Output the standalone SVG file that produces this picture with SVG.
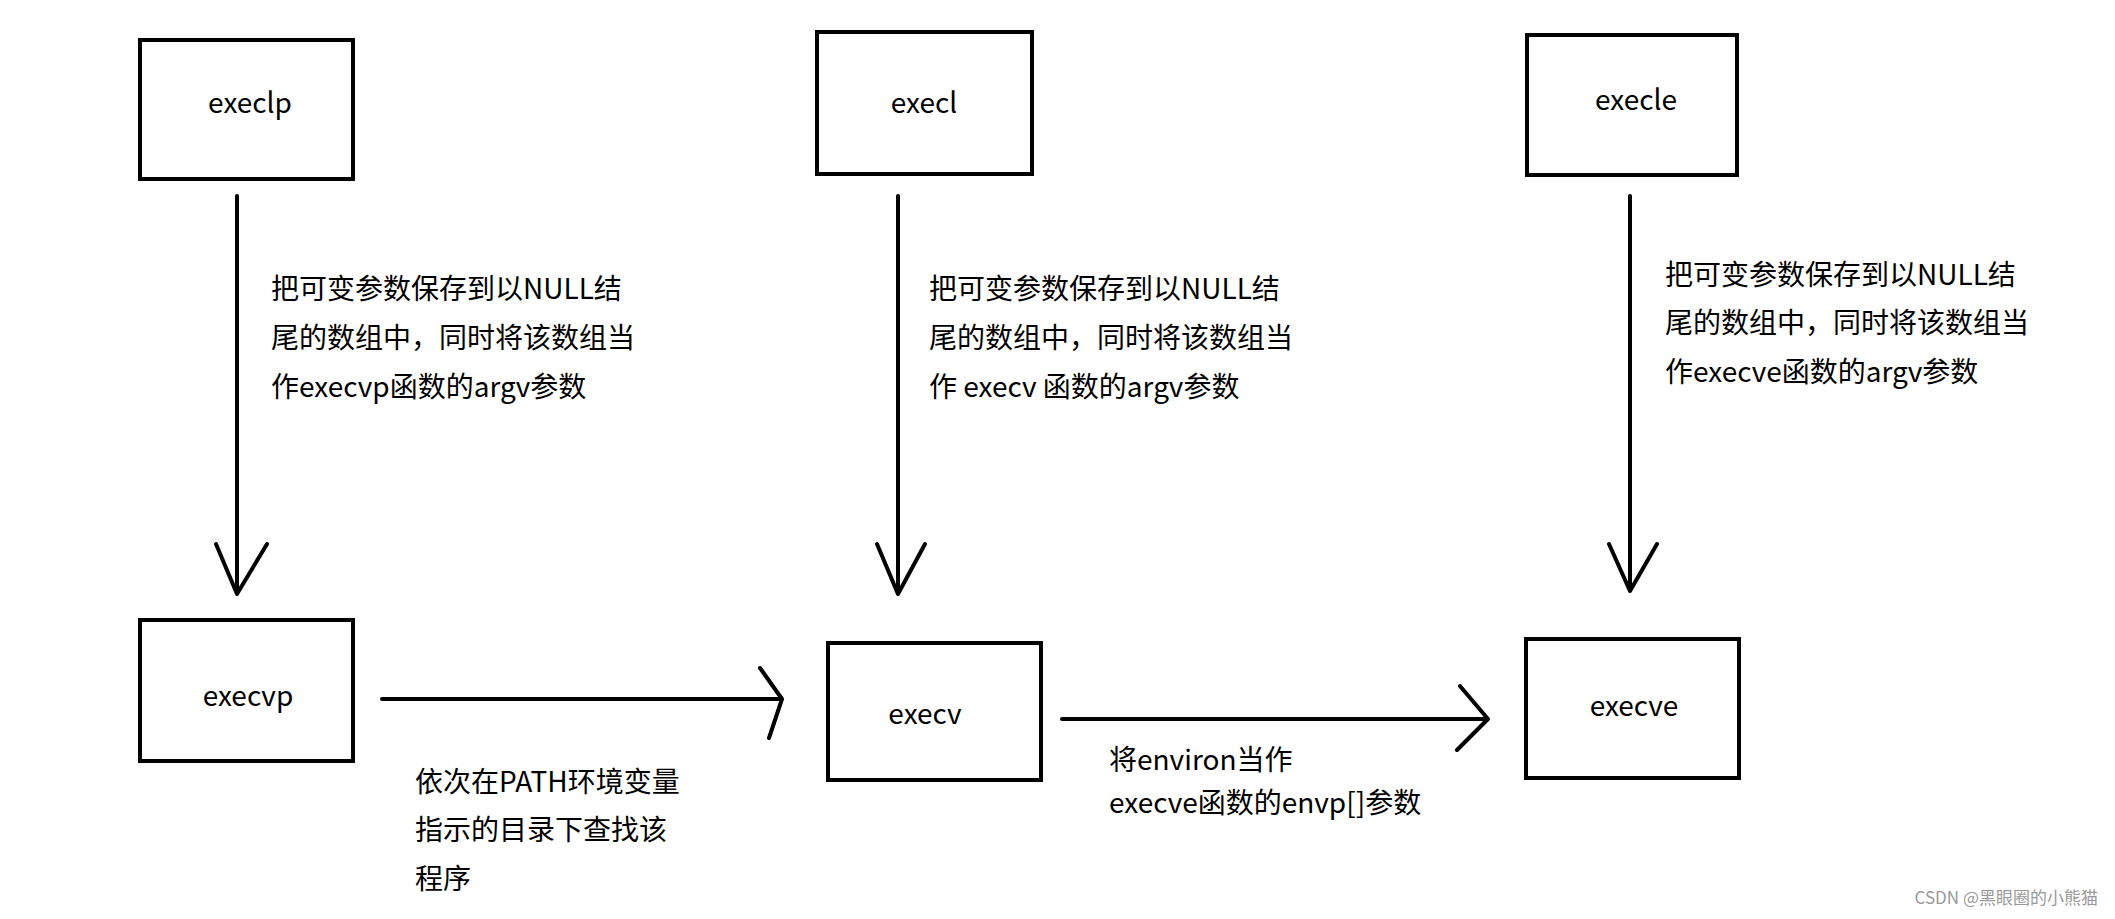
<svg xmlns="http://www.w3.org/2000/svg" width="2115" height="919" viewBox="0 0 2115 919">
<style>
.box{fill:#fff;stroke:#000;stroke-width:4}
.t{font-family:"Noto Sans CJK SC","Liberation Sans",sans-serif;font-size:28px;fill:#000}
.c{text-anchor:middle}
.ln{stroke:#000;stroke-width:4;fill:none;stroke-linecap:round;stroke-linejoin:round}
</style>
<rect width="2115" height="919" fill="#fff"/>
<g id="execlp"><rect class="box" x="140" y="40" width="213" height="139"/><text class="t c" x="250" y="113">execlp</text></g>
<g id="execl"><rect class="box" x="817" y="32" width="215" height="142"/><text class="t c" x="924" y="113">execl</text></g>
<g id="execle"><rect class="box" x="1527" y="35" width="210" height="140"/><text class="t c" x="1636" y="110">execle</text></g>
<g id="execvp"><rect class="box" x="140" y="620" width="213" height="141"/><text class="t c" x="248" y="706">execvp</text></g>
<g id="execv"><rect class="box" x="828" y="643" width="213" height="137"/><text class="t c" x="925" y="724">execv</text></g>
<g id="execve"><rect class="box" x="1526" y="639" width="213" height="139"/><text class="t c" x="1634" y="716">execve</text></g>
<g id="connectors">
<path class="ln" d="M237 196V594M216 544L237 594L267 544"/>
<path class="ln" d="M898 196V594M877 544L898 594L925 544"/>
<path class="ln" d="M1630 196V591M1609 544L1630 591L1657 544"/>
<path class="ln" d="M382 699H782M760 668L782 699L769 738"/>
<path class="ln" d="M1062 719H1488M1460 686L1488 719L1457 750"/>
</g>
<g id="labels">
<text class="t" x="271" y="299">把可变参数保存到以NULL结</text>
<text class="t" x="271" y="348">尾的数组中，同时将该数组当</text>
<text class="t" x="271" y="397">作execvp函数的argv参数</text>
<text class="t" x="929" y="299">把可变参数保存到以NULL结</text>
<text class="t" x="929" y="348">尾的数组中，同时将该数组当</text>
<text class="t" x="929" y="397">作 execv 函数的argv参数</text>
<text class="t" x="1665" y="285">把可变参数保存到以NULL结</text>
<text class="t" x="1665" y="333">尾的数组中，同时将该数组当</text>
<text class="t" x="1665" y="382">作execve函数的argv参数</text>
<text class="t" x="415" y="792">依次在PATH环境变量</text>
<text class="t" x="415" y="840">指示的目录下查找该</text>
<text class="t" x="415" y="889">程序</text>
<text class="t" x="1109" y="770">将environ当作</text>
<text class="t" x="1109" y="813">execve函数的envp[]参数</text>
<text x="2098" y="904" text-anchor="end" font-family="Noto Sans CJK SC,Liberation Sans,sans-serif" font-size="17" fill="#999">CSDN @黑眼圈的小熊猫</text>
</g>
</svg>
